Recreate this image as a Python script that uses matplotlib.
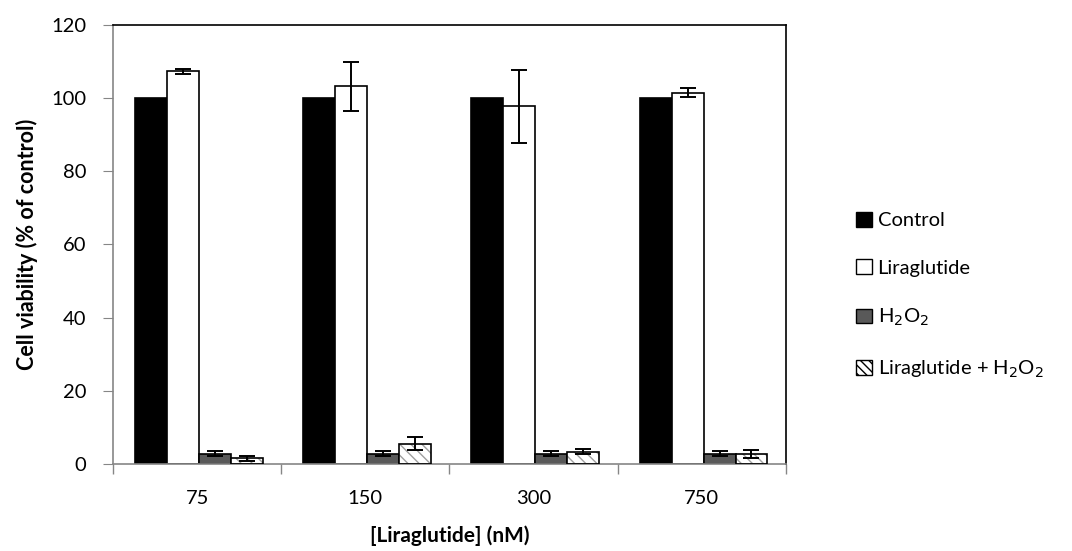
import matplotlib.pyplot as plt
import numpy as np
from matplotlib.patches import Patch

plt.rcParams['font.family'] = ['Lato', 'DejaVu Sans']

# Datos
categorias = ['75', '150', '300', '750']
series = ['Control', 'Liraglutide', 'H$_2$O$_2$', 'Liraglutide + H$_2$O$_2$']
control = [100, 100, 100, 100]
control_err = [0, 0, 0, 0]
lira = [107.3, 103.3, 97.8, 101.5]
lira_err = [0.7, 6.7, 10.0, 1.2]
h2o2 = [2.8, 2.8, 2.8, 2.8]
h2o2_err = [0.7, 0.7, 0.7, 0.7]
lira_h2o2 = [1.5, 5.5, 3.3, 2.7]
lira_h2o2_err = [0.8, 1.8, 0.7, 1.0]

valores = [control, lira, h2o2, lira_h2o2]
errores = [control_err, lira_err, h2o2_err, lira_h2o2_err]
colores = ['black', 'white', '#595959', 'white']

fig = plt.figure(figsize=(10.72, 5.51), dpi=100)
ax = fig.add_axes([0.1054, 0.158, 0.6278, 0.7966])

x = np.arange(len(categorias))
ancho = 0.19
for i in range(4):
    pos = x + (i - 1.5) * ancho + 0.01
    if i == 3:
        ax.bar(pos, valores[i], width=ancho, color='white', edgecolor='#a0a0a0',
               hatch='\\\\\\', linewidth=0, zorder=2)
        ax.bar(pos, valores[i], width=ancho, fill=False, edgecolor='black',
               linewidth=1.2, zorder=3)
    else:
        ax.bar(pos, valores[i], width=ancho, color=colores[i], edgecolor='black',
               linewidth=1.2, zorder=2)
    if i > 0:
        ax.errorbar(pos, valores[i], yerr=errores[i], fmt='none', ecolor='black',
                    elinewidth=1.4, capsize=6, capthick=1.4, zorder=4)
    else:
        ax.errorbar(pos, valores[i], yerr=errores[i], fmt='none', ecolor='black',
                    elinewidth=1.4, capsize=0, zorder=4)

ax.set_xlim(-0.5, 3.5)
ax.set_ylim(0, 120)
ax.set_yticks(range(0, 121, 20))
ax.set_xticks(x)
ax.set_xticklabels(categorias)
ax.set_xticks(np.arange(-0.5, 4.0, 1.0), minor=True)
ax.tick_params(axis='x', which='major', length=0, labelsize=14.5, pad=19)
ax.tick_params(axis='x', which='minor', length=7, color='#868686', width=1)
ax.tick_params(axis='y', length=7, color='#868686', labelsize=14.5, pad=12)

ax.spines['left'].set_color('#868686')
ax.spines['bottom'].set_color('#868686')
ax.spines['left'].set_linewidth(1.2)
ax.spines['bottom'].set_linewidth(1.2)
ax.spines['top'].set_color('black')
ax.spines['right'].set_color('black')
ax.spines['top'].set_linewidth(1.2)
ax.spines['right'].set_linewidth(1.2)

ax.set_xlabel('[Liraglutide] (nM)', fontsize=15, fontweight='bold', labelpad=13)
ax.set_ylabel('Cell viability (% of control)', fontsize=15.5, fontweight='bold', labelpad=10)

# Leyenda
handles = [
    Patch(facecolor='black', edgecolor='black'),
    Patch(facecolor='white', edgecolor='black'),
    Patch(facecolor='#595959', edgecolor='black'),
    Patch(facecolor='white', edgecolor='black', hatch='\\\\\\\\'),
]
fig.legend(handles, series, loc='center left', bbox_to_anchor=(0.782, 0.463),
           frameon=False, fontsize=14.5, handlelength=0.75, handleheight=0.75,
           handletextpad=0.3, labelspacing=1.5)

plt.savefig('out.png', dpi=100)
